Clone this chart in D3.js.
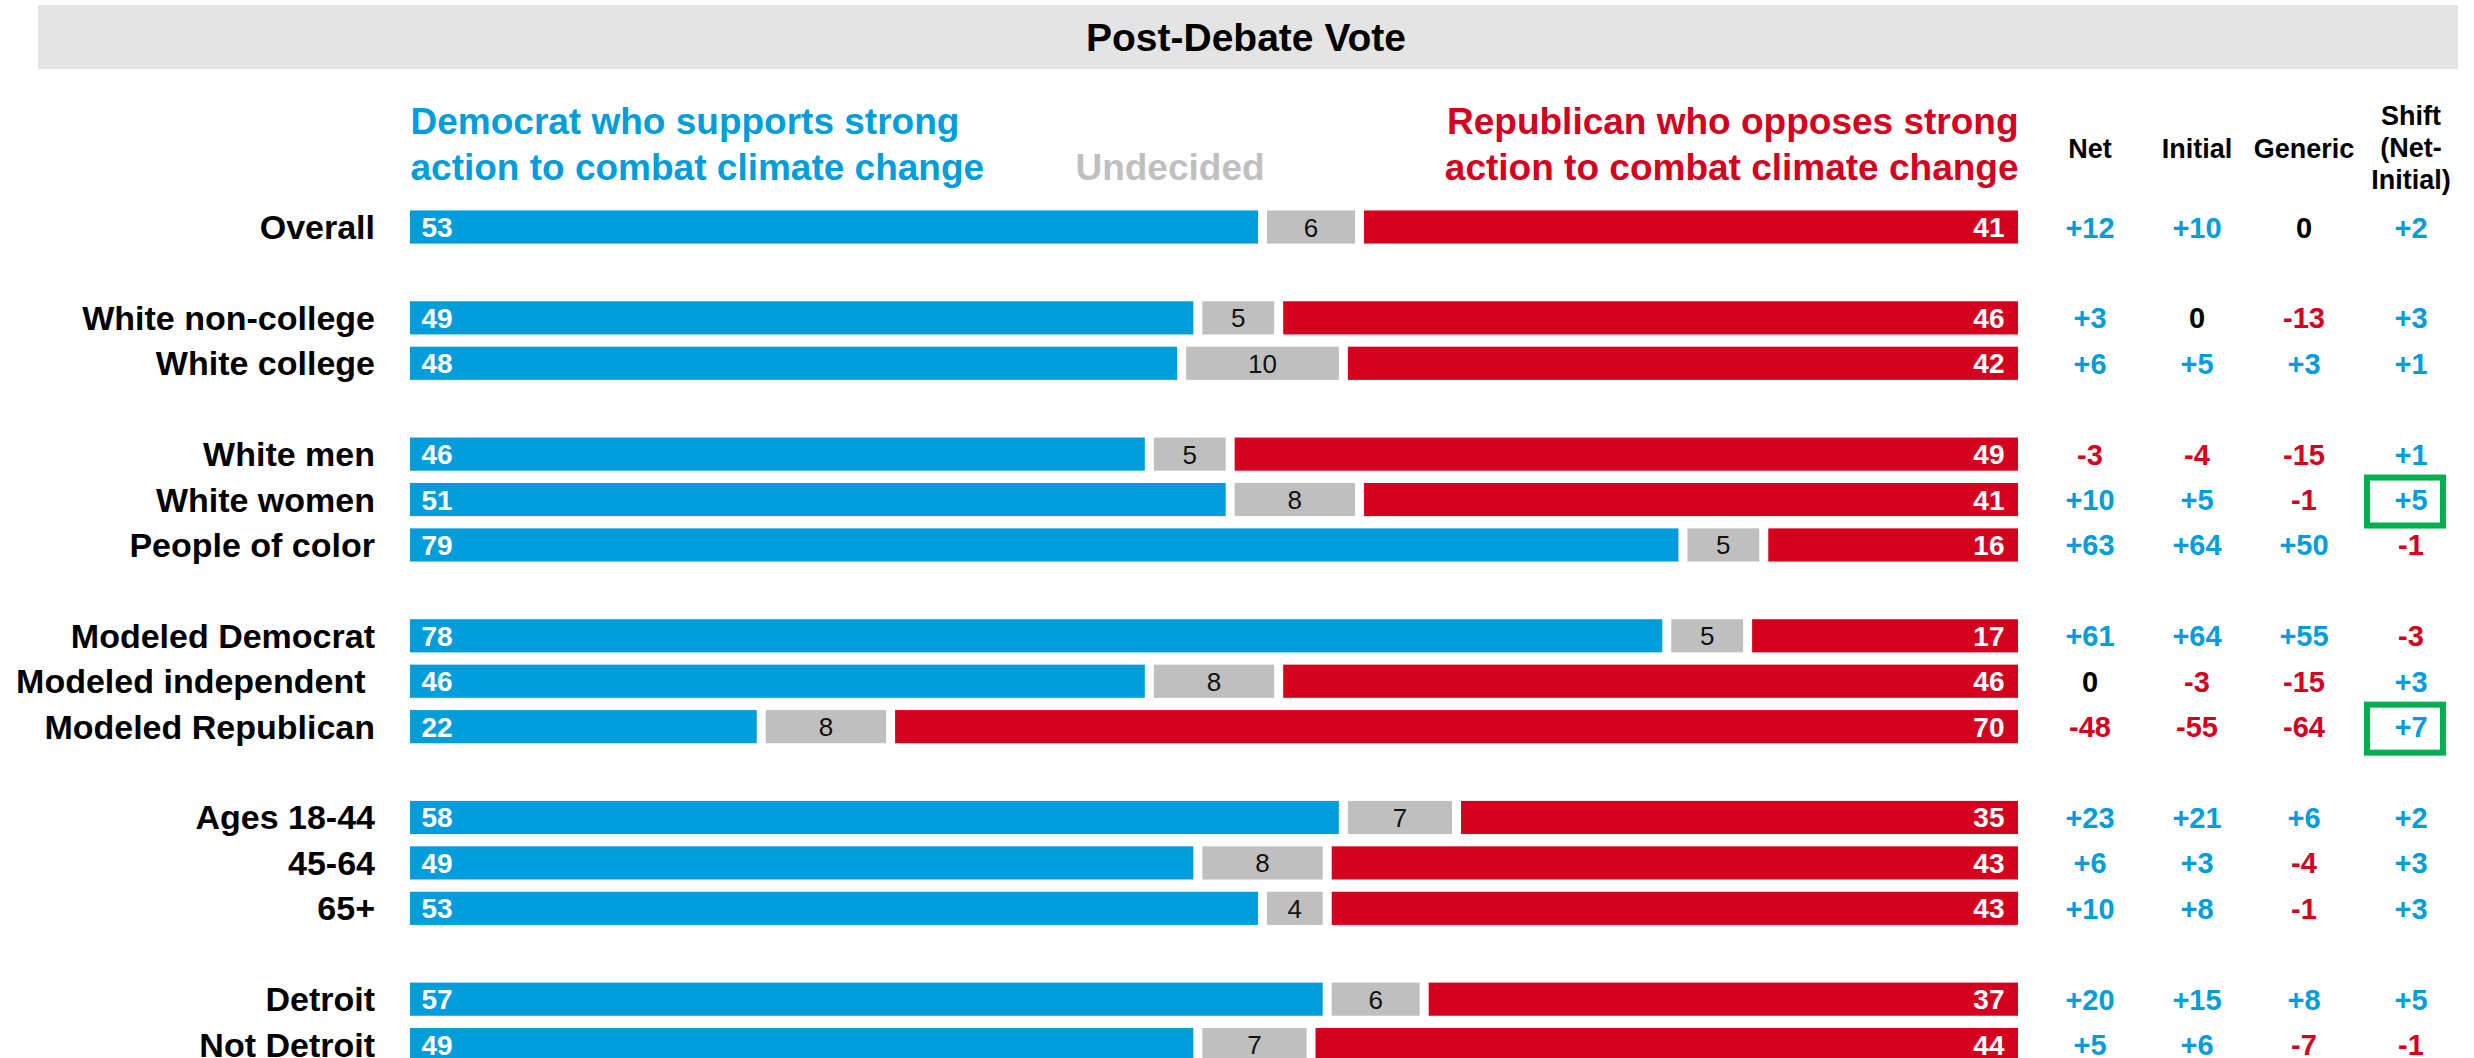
<!DOCTYPE html>
<html>
<head>
<meta charset="utf-8">
<script src="https://cdn.jsdelivr.net/npm/d3@7"></script>
<style>
  html, body { margin: 0; padding: 0; background: #fff; }
  svg { display: block; font-family: "Liberation Sans", Arial, Helvetica, sans-serif; }
  .pre { white-space: pre; }
</style>
</head>
<body>
<svg id="chart" width="2474" height="1058"></svg>
<script>
// ---- data ----
const title = "Post-Debate Vote";

// rows are grouped; an empty slot separates consecutive groups
const groups = [
  ["Overall"],
  ["White non-college", "White college"],
  ["White men", "White women", "People of color"],
  ["Modeled Democrat", "Modeled independent ", "Modeled Republican"],
  ["Ages 18-44", "45-64", "65+"],
  ["Detroit", "Not Detroit"]
];

const democrat  = [53, 49, 48, 46, 51, 79, 78, 46, 22, 58, 49, 53, 57, 49];
const undecided = [ 6,  5, 10,  5,  8,  5,  5,  8,  8,  7,  8,  4,  6,  7];
const republican= [41, 46, 42, 49, 41, 16, 17, 46, 70, 35, 43, 43, 37, 44];

const statColumns = ["Net", "Initial", "Generic", "Shift"];
const statHeaders = [["Net"], ["Initial"], ["Generic"], ["Shift", "(Net-", "Initial)"]];
const net     = [12,  3,  6, -3, 10, 63, 61,   0, -48, 23,  6, 10, 20,  5];
const initial = [10,  0,  5, -4,  5, 64, 64,  -3, -55, 21,  3,  8, 15,  6];
const generic = [ 0,-13,  3,-15, -1, 50, 55, -15, -64,  6, -4, -1,  8, -7];
const shift   = [ 2,  3,  1,  1,  5, -1, -3,   3,   7,  2,  3,  3,  5, -1];
const highlightedShift = ["White women", "Modeled Republican"];

const legendDem = ["Democrat who supports strong", "action to combat climate change"];
const legendUnd = "Undecided";
const legendRep = ["Republican who opposes strong", "action to combat climate change"];

// ---- styling ----
const BLUE = "#009DDC", RED = "#D5001E", GREY = "#BFBFBF", GREEN = "#00B050";
const FONT_BOLD = 700;

const svg = d3.select("#chart");

// build the ordered list of row slots (with spacer slots between groups)
const categories = groups.flat();
const slots = [];
groups.forEach((g, gi) => {
  if (gi > 0) slots.push("__gap" + gi);
  g.forEach(c => slots.push(c));
});

const rows = categories.map((c, i) => ({
  label: c,
  segs: [
    { key: "dem", start: 0, end: democrat[i], value: democrat[i], color: BLUE },
    { key: "und", start: democrat[i], end: democrat[i] + undecided[i], value: undecided[i], color: GREY },
    { key: "rep", start: democrat[i] + undecided[i], end: 100, value: republican[i], color: RED }
  ],
  stats: [net[i], initial[i], generic[i], shift[i]]
}));

// ---- scales ----
const x = d3.scaleLinear().domain([0, 100]).range([405.5, 2022.5]);
const y = d3.scaleBand().domain(slots).range([204.3, 1067.3]).paddingInner(0.27).paddingOuter(0.135);
const col = d3.scalePoint().domain(statColumns).range([2090, 2411]);
const GAP = 4.5;
const cy = d => y(d) + y.bandwidth() / 2;

// ---- title band ----
svg.append("rect").attr("x", 38).attr("y", 5).attr("width", 2420).attr("height", 64).attr("fill", "#E4E4E4");
svg.append("text").attr("x", 1246).attr("y", 51).attr("text-anchor", "middle")
  .attr("font-size", 39).attr("font-weight", FONT_BOLD).attr("fill", "#000").text(title);

// ---- legend headings ----
const legend = svg.append("g").attr("font-size", 37).attr("font-weight", FONT_BOLD);
legendDem.forEach((t, i) => legend.append("text").attr("x", x(0) + 5).attr("y", 134 + i * 46).attr("fill", BLUE).text(t));
legendRep.forEach((t, i) => legend.append("text").attr("x", x(100) - 4).attr("y", 134 + i * 46)
  .attr("text-anchor", "end").attr("fill", RED).text(t));
legend.append("text").attr("x", 1170).attr("y", 180).attr("text-anchor", "middle").attr("fill", GREY).text(legendUnd);

// ---- stat column headers ----
const hdr = svg.append("g").attr("font-size", 27).attr("font-weight", FONT_BOLD).attr("fill", "#000").attr("text-anchor", "middle");
statColumns.forEach((c, i) => {
  const lines = statHeaders[i];
  const base = lines.length === 1 ? 158 : 125;
  lines.forEach((t, j) => hdr.append("text").attr("x", col(c)).attr("y", base + j * 32).text(t));
});

// ---- rows ----
const rowG = svg.append("g").selectAll("g.row").data(rows).join("g").attr("class", "row");

// category labels
rowG.append("text").attr("class", "pre")
  .attr("x", 375).attr("y", d => cy(d.label) + 12)
  .attr("text-anchor", "end").attr("font-size", 34).attr("font-weight", FONT_BOLD).attr("fill", "#000")
  .text(d => d.label);

// stacked bar segments (white gap between neighbours)
rowG.selectAll("rect.seg").data(d => d.segs.map(s => ({ ...s, row: d.label }))).join("rect")
  .attr("class", "seg")
  .attr("x", s => x(s.start) + GAP)
  .attr("width", s => x(s.end) - x(s.start) - 2 * GAP)
  .attr("y", s => y(s.row))
  .attr("height", y.bandwidth())
  .attr("fill", s => s.color);

// segment values
rowG.append("text")
  .attr("x", x(0) + 16).attr("y", d => cy(d.label) + 10)
  .attr("font-size", 28).attr("font-weight", FONT_BOLD).attr("fill", "#fff")
  .text(d => d.segs[0].value);
rowG.append("text")
  .attr("x", d => (x(d.segs[1].start) + x(d.segs[1].end)) / 2).attr("y", d => cy(d.label) + 9.5)
  .attr("text-anchor", "middle").attr("font-size", 26).attr("fill", "#111")
  .text(d => d.segs[1].value);
rowG.append("text")
  .attr("x", x(100) - 18).attr("y", d => cy(d.label) + 10)
  .attr("text-anchor", "end").attr("font-size", 28).attr("font-weight", FONT_BOLD).attr("fill", "#fff")
  .text(d => d.segs[2].value);

// stat values
const fmt = v => v > 0 ? "+" + v : String(v);
const statColor = v => v > 0 ? BLUE : v < 0 ? RED : "#000";
rowG.selectAll("text.stat").data(d => d.stats.map((v, i) => ({ v, c: statColumns[i], row: d.label }))).join("text")
  .attr("class", "stat")
  .attr("x", s => col(s.c)).attr("y", s => cy(s.row) + 10.5)
  .attr("text-anchor", "middle").attr("font-size", 29).attr("font-weight", FONT_BOLD)
  .attr("fill", s => statColor(s.v))
  .text(s => fmt(s.v));

// highlight boxes around selected shift values
svg.append("g").selectAll("rect").data(highlightedShift).join("rect")
  .attr("x", col("Shift") - 44).attr("y", d => cy(d) - 22)
  .attr("width", 76).attr("height", 48)
  .attr("fill", "none").attr("stroke", GREEN).attr("stroke-width", 6);
</script>
</body>
</html>
